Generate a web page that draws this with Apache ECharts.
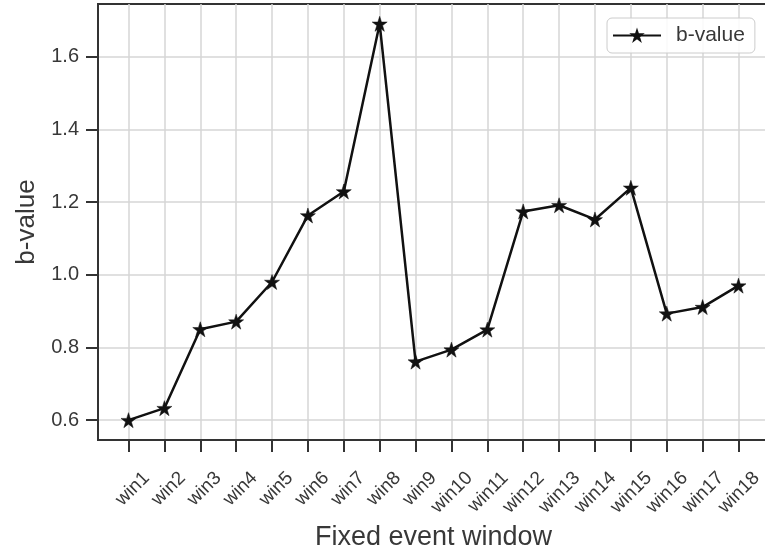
<!DOCTYPE html>
<html>
<head>
<meta charset="utf-8">
<script src="https://cdn.jsdelivr.net/npm/echarts@6/dist/echarts.min.js"></script>
<style>
html,body{margin:0;padding:0;background:#fff;}
#chart{width:765px;height:552px;}
</style>
</head>
<body>
<div id="chart"></div>
<script>
const categories = ['win1','win2','win3','win4','win5','win6','win7','win8','win9','win10','win11','win12','win13','win14','win15','win16','win17','win18'];
const bValues = [0.600,0.633,0.850,0.871,0.980,1.163,1.229,1.690,0.761,0.794,0.849,1.174,1.191,1.152,1.239,0.893,0.911,0.970];
const yTicks = [0.6,0.8,1.0,1.2,1.4,1.6];
const seriesName = 'b-value';
const xAxisTitle = 'Fixed event window';
const yAxisTitle = 'b-value';

const STAR = 'path://M50,0 L61.8,35.3 L99,35.3 L69,57.3 L80.4,92.7 L50,70.8 L19.6,92.7 L31,57.3 L1,35.3 L38.2,35.3 Z';
const FONT = "'Liberation Sans', Arial, Helvetica, sans-serif";
const TXT = '#383838';

const n = categories.length;
const xPad = 0.05 * (n - 1);
const yMinData = Math.min(...bValues), yMaxData = Math.max(...bValues);
const yPad = 0.05 * (yMaxData - yMinData);
const xIdx = categories.map((_, i) => i);

const chart = echarts.init(document.getElementById('chart'), null, {renderer: 'canvas'});
chart.setOption({
  animation: false,
  backgroundColor: '#ffffff',
  grid: {
    left: 98, top: 4, width: 671, height: 436,
    outerBoundsMode: 'none', containLabel: false,
    show: true, borderColor: '#333333', borderWidth: 2, backgroundColor: 'transparent'
  },
  legend: {
    data: [seriesName],
    left: 607, top: 18,
    padding: [7, 10, 7, 5],
    itemWidth: 48, itemHeight: 12,
    borderColor: '#cccccc', borderWidth: 1, borderRadius: 5,
    backgroundColor: 'rgba(255,255,255,0.85)',
    textStyle: {fontFamily: FONT, fontSize: 21, color: TXT, padding: [0, 0, 0, 10]}
  },
  xAxis: {
    type: 'value',
    min: -xPad, max: n - 1 + xPad,
    name: xAxisTitle, nameLocation: 'middle', nameGap: 80,
    nameTextStyle: {fontFamily: FONT, fontSize: 27, color: TXT},
    axisLine: {show: true, onZero: false, lineStyle: {color: '#333333', width: 2}},
    axisTick: {show: true, length: 12, lineStyle: {color: '#333333', width: 2}, customValues: xIdx},
    axisLabel: {
      customValues: xIdx,
      formatter: v => categories[Math.round(v)],
      rotate: 45, align: 'right', verticalAlign: 'top',
      padding: [16, 0, 0, 0], margin: 17,
      fontFamily: FONT, fontSize: 19, color: TXT
    },
    splitLine: {show: true, lineStyle: {color: '#d6d6d6', width: 1.5}}
  },
  yAxis: {
    type: 'value',
    min: yMinData - yPad, max: yMaxData + yPad,
    name: yAxisTitle, nameLocation: 'middle', nameGap: 58, nameRotate: 90,
    nameTextStyle: {fontFamily: FONT, fontSize: 26, color: TXT},
    axisLine: {show: true, onZero: false, lineStyle: {color: '#333333', width: 2}},
    axisTick: {show: true, length: 12, lineStyle: {color: '#333333', width: 2}, customValues: yTicks},
    axisLabel: {
      customValues: yTicks,
      formatter: v => v.toFixed(1),
      margin: 19,
      fontFamily: FONT, fontSize: 20, color: TXT
    },
    splitLine: {show: true, lineStyle: {color: '#d6d6d6', width: 1.5}}
  },
  series: [{
    name: seriesName,
    type: 'line',
    data: bValues.map((v, i) => [i, v]),
    symbol: STAR, symbolSize: 15,
    lineStyle: {color: '#111111', width: 2.5},
    itemStyle: {color: '#111111', borderColor: '#111111', borderWidth: 0.5},
    z: 5
  }]
});
</script>
</body>
</html>
